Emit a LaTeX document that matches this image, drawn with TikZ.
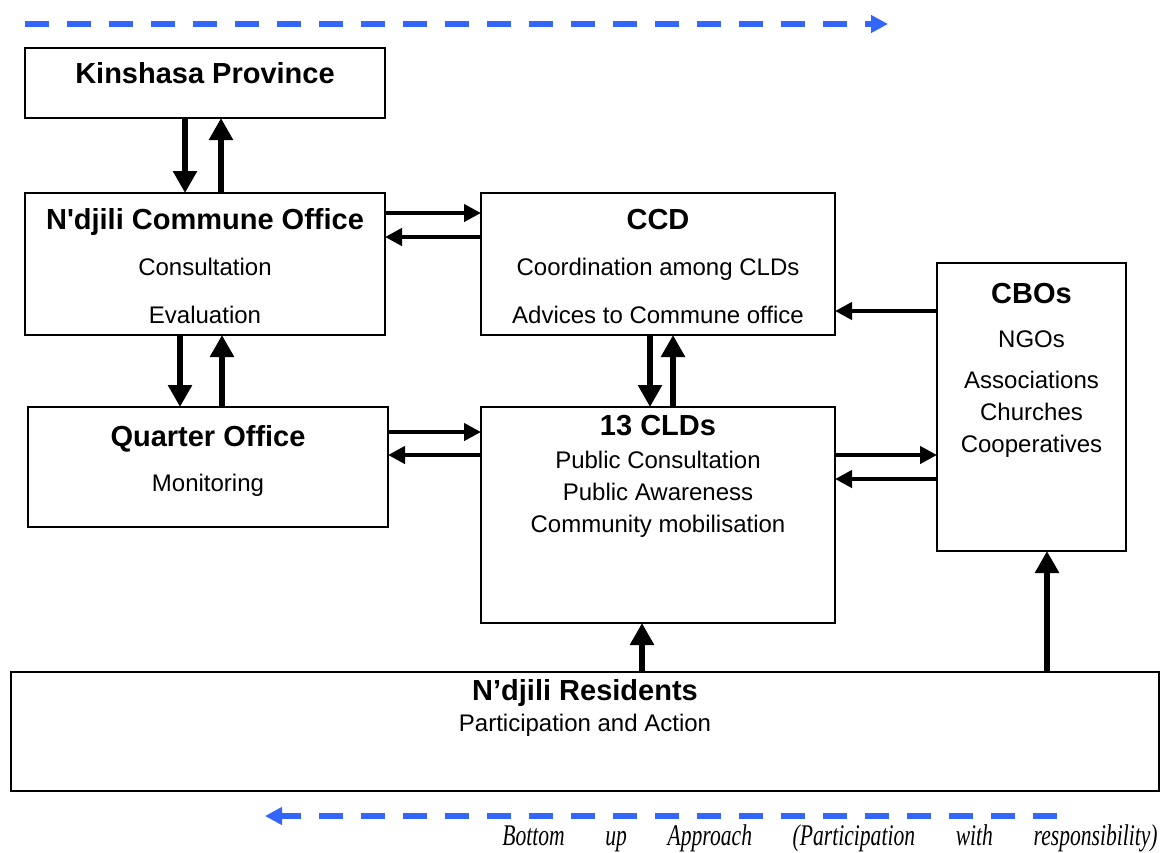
\documentclass[tikz,border=0pt]{standalone}
\usepackage{fontspec,graphicx,xcolor}
\setmainfont{Liberation Sans}
\newfontfamily\plainsans{Liberation Sans}[Ligatures=TeXOff]
\newfontfamily\notefont{Liberation Serif}
\usetikzlibrary{arrows.meta,positioning,calc}
\definecolor{dashblue}{HTML}{3366FF}
\tikzset{unit/.style={draw,line width=0.9pt,inner sep=0pt,outer sep=0pt},
  head/.style={anchor=base,inner sep=0pt,font=\bfseries\fontsize{14.5}{17}\selectfont},
  body/.style={anchor=base,inner sep=0pt,font=\fontsize{12}{14}\selectfont},
  vflow/.style={-{Triangle[length=11pt,width=11.5pt]},line width=3.2pt},
  hflow/.style={-{Triangle[length=8.5pt,width=8.5pt]},line width=2.1pt},
  trend/.style={-{Triangle[length=8.5pt,width=8.5pt]},line width=3pt,draw=dashblue,
    dash pattern=on 12pt off 9pt}}
\begin{document}
\begin{tikzpicture}[x=0.5pt,y=-0.5pt]
\useasboundingbox (0,0) rectangle (1161,852);
% boxes
\node[unit,minimum width=180pt,minimum height=35pt] (prov) at (205,83) {};
\node[unit,minimum width=180pt,minimum height=71pt] (comm) at (205,264) {};
\node[unit,minimum width=177pt,minimum height=71pt] (ccd) at (658,264) {};
\node[unit,minimum width=94.5pt,minimum height=144pt] (cbo) at (1031.5,407) {};
\node[unit,minimum width=180pt,minimum height=60pt] (quar) at (208,467) {};
\node[unit,minimum width=177pt,minimum height=108pt] (cld) at (658,515) {};
\node[unit,minimum width=574pt,minimum height=59.5pt] (res) at (585,731.5) {};
% texts
\node[head] (provT) at (205,83) {Kinshasa Province};
\node[head] (commT) at (205,229) {\plainsans\bfseries N'djili Commune Office};
\node[body] (comm1) at (205,275) {Consultation};
\node[body] (comm2) at (205,323) {Evaluation};
\node[head] (ccdT) at (658,229) {CCD};
\node[body] (ccd1) at (658,275) {Coordination among CLDs};
\node[body] (ccd2) at (658,323) {Advices to Commune office};
\node[head] (cboT) at (1031.5,303) {CBOs};
\node[body] (cbo1) at (1031.5,347) {NGOs};
\node[body] (cbo2) at (1031.5,388) {Associations};
\node[body] (cbo3) at (1031.5,420) {Churches};
\node[body] (cbo4) at (1031.5,452) {Cooperatives};
\node[head] (quarT) at (208,446) {Quarter Office};
\node[body] (quar1) at (208,491) {Monitoring};
\node[head] (cldT) at (658,435) {13 CLDs};
\node[body] (cld1) at (658,468) {Public Consultation};
\node[body] (cld2) at (658,500) {Public Awareness};
\node[body] (cld3) at (658,532) {Community mobilisation};
\node[head] (resT) at (585,700) {N’djili Residents};
\node[body] (res1) at (585,731) {Participation and Action};
\node[anchor=base east,inner sep=0pt] (note) at (1158,845)
  {\scalebox{0.72}[1]{\notefont\itshape\fontsize{15}{18}\selectfont
   \makebox[455pt][s]{Bottom up Approach (Participation with responsibility)}}};
% direction lines
\coordinate (t1) at (25,24); \coordinate (t2) at (888,24);
\coordinate (b1) at (1057,816); \coordinate (b2) at (265,816);
\draw[trend] (t1) -- (t2);
\draw[trend] (b1) -- (b2);
% flows
\draw[vflow] (185,0 |- prov.south) -- (185,0 |- comm.north);
\draw[vflow] (221,0 |- comm.north) -- (221,0 |- prov.south);
\draw[hflow] (comm.east |- 0,213) -- (ccd.west |- 0,213);
\draw[hflow] (ccd.west |- 0,237) -- (comm.east |- 0,237);
\draw[vflow] (180,0 |- comm.south) -- (180,0 |- quar.north);
\draw[vflow] (222,0 |- quar.north) -- (222,0 |- comm.south);
\draw[vflow] (650,0 |- ccd.south) -- (650,0 |- cld.north);
\draw[vflow] (673,0 |- cld.north) -- (673,0 |- ccd.south);
\draw[hflow] (cbo.west |- 0,311) -- (ccd.east |- 0,311);
\draw[hflow] (quar.east |- 0,432) -- (cld.west |- 0,432);
\draw[hflow] (cld.west |- 0,455) -- (quar.east |- 0,455);
\draw[hflow] (cld.east |- 0,455) -- (cbo.west |- 0,455);
\draw[hflow] (cbo.west |- 0,479) -- (cld.east |- 0,479);
\draw[vflow] (642,0 |- res.north) -- (642,0 |- cld.south);
\draw[vflow] (1047,0 |- res.north) -- (1047,0 |- cbo.south);
\end{tikzpicture}
\end{document}
